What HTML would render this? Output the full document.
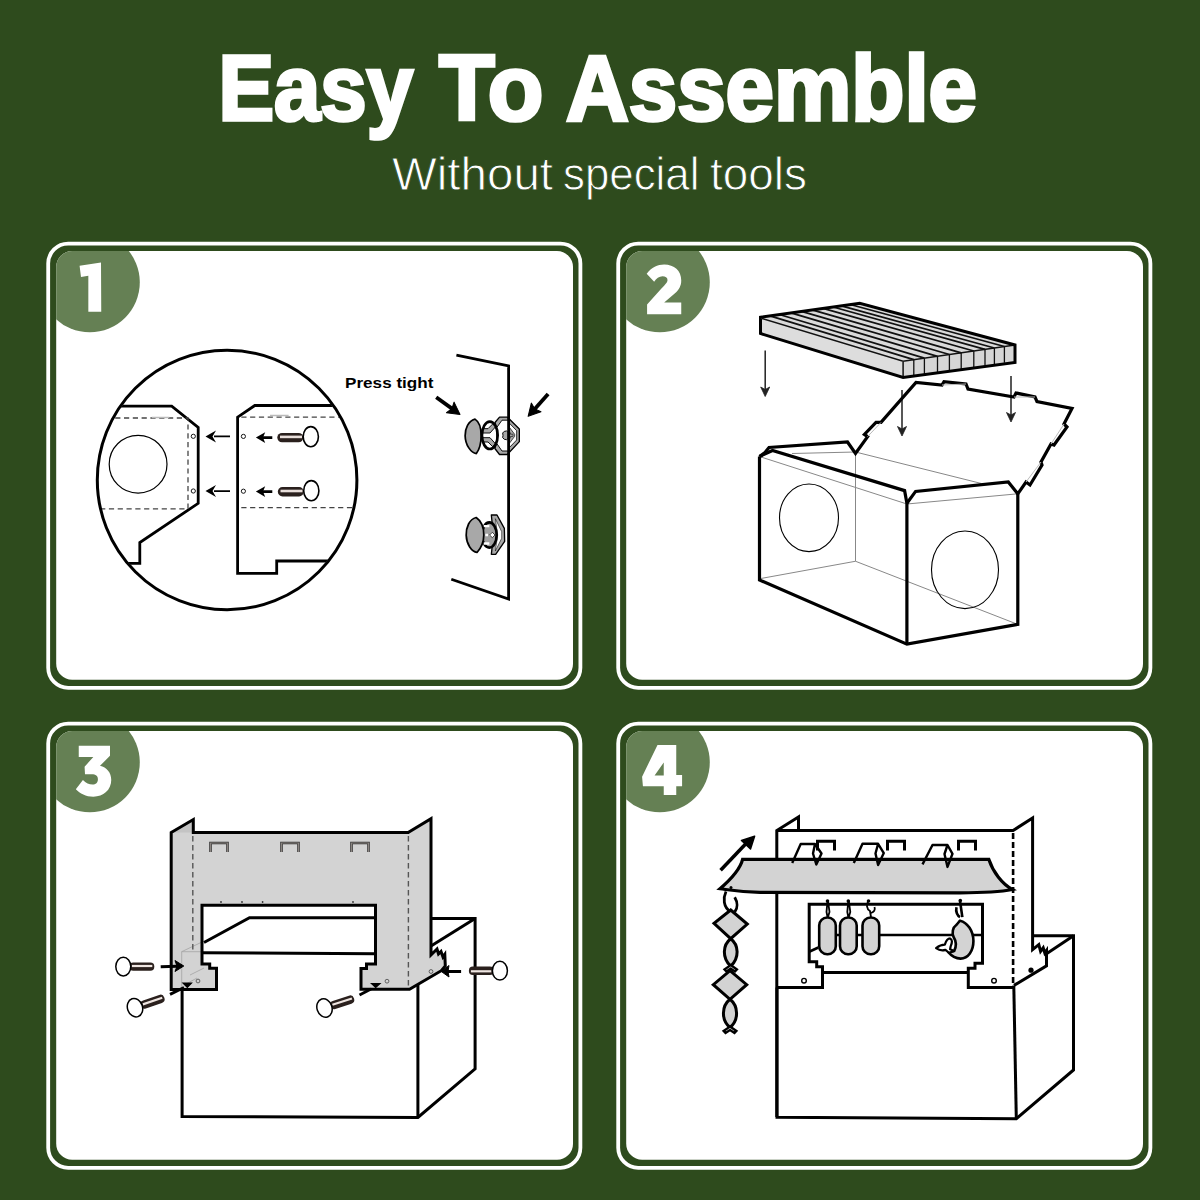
<!DOCTYPE html>
<html><head><meta charset="utf-8">
<style>
html,body{margin:0;padding:0;background:#2e4b1d;width:1200px;height:1200px;overflow:hidden}
svg{display:block}
</style></head>
<body>
<svg width="1200" height="1200" viewBox="0 0 1200 1200">
<defs>
  <g id="bolt">
    <rect x="6" y="-4.2" width="25" height="8.4" rx="4" fill="#2a201d"/>
    <rect x="8.5" y="-1.7" width="20.5" height="2.2" fill="#efe6e2"/>
    <ellipse cx="0" cy="0" rx="7.5" ry="9.4" fill="#fff" stroke="#000" stroke-width="1.5"/>
  </g>
  <clipPath id="p1"><rect x="56.2" y="251" width="516.8" height="428.7" rx="16"/></clipPath>
</defs>
<rect x="0" y="0" width="1200" height="1200" fill="#2e4b1d"/>
<g font-family="Liberation Sans" font-weight="bold" font-size="92.5" fill="#fff" stroke="#fff" stroke-width="3.6" stroke-linejoin="miter">
<text x="218.5" y="120" textLength="194.5" lengthAdjust="spacingAndGlyphs">Easy</text>
<text x="439" y="120" textLength="104.5" lengthAdjust="spacingAndGlyphs">To</text>
<text x="566" y="120" textLength="411" lengthAdjust="spacingAndGlyphs">Assemble</text>
</g>
<g font-family="Liberation Sans" font-size="47" fill="#fff" stroke="#2e4b1d" stroke-width="0.9">
<text x="392" y="189.8" textLength="161" lengthAdjust="spacingAndGlyphs">Without</text>
<text x="563" y="189.8" textLength="136.5" lengthAdjust="spacingAndGlyphs">special</text>
<text x="710" y="189.8" textLength="97" lengthAdjust="spacingAndGlyphs">tools</text>
</g>

<g id="card1">
  <rect x="48.2" y="243.6" width="532.2" height="444.2" rx="20" fill="none" stroke="#fff" stroke-width="3.8"/>
  <rect x="56.2" y="251" width="516.8" height="428.7" rx="16" fill="#fff"/>
  <g clip-path="url(#p1)"><circle cx="89.8" cy="282.3" r="50" fill="#658054"/></g>
  <g transform="translate(50,245) scale(0.083333)" fill="#fff"><path d="M355,248 L612,210 L615,800 L460,800 L460,368 L372,385 Z"/></g>
</g>
<g id="card2" transform="translate(570,0)">
  <rect x="48.2" y="243.6" width="532.2" height="444.2" rx="20" fill="none" stroke="#fff" stroke-width="3.8"/>
  <rect x="56.2" y="251" width="516.8" height="428.7" rx="16" fill="#fff"/>
  <g clip-path="url(#p1)"><circle cx="89.8" cy="282.3" r="50" fill="#658054"/></g>
  <g transform="translate(50,245) scale(0.083333)" fill="#fff"><path d="M320,345 C380,270 450,235 530,235 C650,235 735,310 735,425 C735,490 710,530 660,580 L530,690 L735,690 L735,830 L325,830 L325,715 L500,520 C545,470 570,450 570,420 C570,390 545,375 510,375 C470,375 435,400 410,440 Z"/></g>
</g>
<g id="card3" transform="translate(0,480)">
  <rect x="48.2" y="243.6" width="532.2" height="444.2" rx="20" fill="none" stroke="#fff" stroke-width="3.8"/>
  <rect x="56.2" y="251" width="516.8" height="428.7" rx="16" fill="#fff"/>
  <g clip-path="url(#p1)"><circle cx="89.8" cy="282.3" r="50" fill="#658054"/></g>
  <g transform="translate(50,245) scale(0.083333)" fill="#fff"><path d="M345,250 L720,250 L720,370 L600,490 C680,510 735,570 735,660 C735,780 640,860 520,860 C430,860 360,820 310,770 L395,660 C430,695 470,715 510,715 C550,715 575,690 575,650 C575,610 550,590 500,590 L420,590 L415,500 L520,385 L345,385 Z"/></g>
</g>
<g id="card4" transform="translate(570,480)">
  <rect x="48.2" y="243.6" width="532.2" height="444.2" rx="20" fill="none" stroke="#fff" stroke-width="3.8"/>
  <rect x="56.2" y="251" width="516.8" height="428.7" rx="16" fill="#fff"/>
  <g clip-path="url(#p1)"><circle cx="89.8" cy="282.3" r="50" fill="#658054"/></g>
  <g transform="translate(50,245) scale(0.083333)" fill="#fff"><path fill-rule="evenodd" d="M450,240 L675,240 L675,600 L745,600 L745,735 L675,735 L675,840 L525,840 L525,735 L275,735 L265,620 Z M525,450 L525,605 L415,605 Z"/></g>
</g>

<g id="draw1">
  <defs>
    <clipPath id="bigc"><circle cx="227.1" cy="480" r="128.6"/></clipPath>
  </defs>
  <g clip-path="url(#bigc)" fill="none" stroke="#000">
    <path d="M80,406.2 L171.7,406.2 L198.2,427.5 L198.2,503.3 L139.8,542.6 L139.8,563.3 L80,563.3" stroke-width="2.8" stroke-linejoin="miter"/>
    <path d="M80,418 L188,418 L188,508.9 L80,508.9" stroke="#444" stroke-width="1.3" stroke-dasharray="5.2 3.6"/>
    <path d="M151.8,417.4 L169.3,417.4" stroke="#bbb" stroke-width="1.5"/>
    <path d="M370,405.5 L254.8,405.5 L237.6,417.2 L237.6,573.3 L276.7,573.3 L276.7,561 L370,561" stroke-width="2.8"/>
    <path d="M241.3,417.2 L370,417.2 M241.3,507.6 L370,507.6" stroke="#444" stroke-width="1.3" stroke-dasharray="5.2 3.6"/>
    <path d="M270,415.6 L288.6,415.6" stroke="#bbb" stroke-width="1.5"/>
  </g>
  <circle cx="227.1" cy="480" r="129.8" fill="none" stroke="#000" stroke-width="3"/>
  <circle cx="138.1" cy="464.2" r="28.9" fill="none" stroke="#000" stroke-width="1.2"/>
  <circle cx="193.3" cy="436.3" r="2.1" fill="none" stroke="#000" stroke-width="0.9"/>
  <circle cx="193.3" cy="491" r="2.1" fill="none" stroke="#000" stroke-width="0.9"/>
  <circle cx="243.4" cy="436.4" r="2.1" fill="none" stroke="#000" stroke-width="0.9"/>
  <circle cx="243.4" cy="491.2" r="2.1" fill="none" stroke="#000" stroke-width="0.9"/>
  <!-- thin arrows -->
  <g stroke="#000" stroke-width="1.6"><path d="M214,436.4 L230,436.4 M214,491.1 L230,491.1"/></g>
  <path d="M205.5,436.4 L216,430.4 L212.5,436.4 L216,442.4 Z M205.5,491.1 L216,485.1 L212.5,491.1 L216,497.1 Z" fill="#000"/>
  <!-- thick arrows -->
  <g stroke="#000" stroke-width="2.6"><path d="M262,437.6 L272.3,437.6 M262,491.6 L272.3,491.6"/></g>
  <path d="M255.9,437.6 L265.2,432.3 L263,437.6 L265.2,442.9 Z M255.9,491.6 L265.2,486.3 L263,491.6 L265.2,496.9 Z" fill="#000"/>
  <!-- bolts -->
  <g>
    <rect x="277.3" y="432.9" width="26" height="9.4" rx="4.7" fill="#2a201d"/>
    <rect x="280" y="435.6" width="22" height="2.6" fill="#e9dfdb"/>
    <ellipse cx="310.8" cy="436.7" rx="7.6" ry="10.1" fill="#fff" stroke="#000" stroke-width="1.6"/>
    <rect x="277.8" y="487" width="26" height="9.4" rx="4.7" fill="#2a201d"/>
    <rect x="280.5" y="489.7" width="22" height="2.6" fill="#e9dfdb"/>
    <ellipse cx="311.3" cy="490.7" rx="7.6" ry="10.1" fill="#fff" stroke="#000" stroke-width="1.6"/>
  </g>
  <text x="345" y="388.1" font-family="Liberation Sans" font-weight="bold" font-size="15.4" fill="#000" textLength="88.5" lengthAdjust="spacingAndGlyphs">Press tight</text>
  <g transform="translate(459.2,413.8) rotate(35.7)">
    <path d="M-28.3,0 L-8,0" stroke="#000" stroke-width="3.8"/>
    <path d="M1,0 L-11,-6.5 L-9,0 L-11,6.5 Z" fill="#000" stroke="#000" stroke-width="1" stroke-linejoin="round"/>
  </g>
  <g transform="translate(528.8,415.6) rotate(131.9)">
    <path d="M-28.9,0 L-8,0" stroke="#000" stroke-width="3.8"/>
    <path d="M1,0 L-11,-6.5 L-9,0 L-11,6.5 Z" fill="#000" stroke="#000" stroke-width="1" stroke-linejoin="round"/>
  </g>
  <!-- clip 1 -->
  <g transform="translate(455,405) scale(0.0666667)" stroke="#000" stroke-width="20" stroke-linejoin="round">
    <path d="M600,262 L668,182 L785,182 L965,360 L965,550 L785,742 L668,742 L598,652 L650,455 Z" fill="#a8a8a8"/>
    <path d="M625,340 L705,228 L805,228 L805,690 L705,690 L625,575 Z" fill="#fff" stroke-width="14"/>
    <path d="M805,262 L925,385 L925,525 L805,650 Z" fill="#fff" stroke-width="12"/>
    <path d="M805,320 L895,440 L895,470 L805,590 L805,530 L850,455 L805,380 Z" fill="#a8a8a8" stroke-width="10"/>
    <path d="M720,455 A40,40 0 0 1 800,415 L800,495 A40,40 0 0 1 720,455 Z" fill="#a8a8a8" stroke-width="14"/>
    <path d="M800,438 L870,438 L870,472 L800,472 Z" fill="#a8a8a8" stroke="#000" stroke-width="8"/>
    <path d="M300,212 C200,240 150,350 152,460 C155,600 240,720 320,728 C370,660 392,560 392,460 C392,350 360,250 300,212 Z" fill="#a8a8a8" stroke-width="26"/>
    <path d="M410,355 L495,355 L565,285 L610,325 L525,420 L410,420 Z M410,555 L495,555 L565,625 L610,585 L525,490 L410,490 Z" fill="#a8a8a8" stroke-width="14"/>
    <ellipse cx="522" cy="455" rx="118" ry="205" fill="none" stroke-width="40"/>
  </g>
  <!-- clip 2 -->
  <g transform="translate(455,505) scale(0.0666667)" stroke="#000" stroke-width="20" stroke-linejoin="round">
    <path d="M545,150 L630,150 L740,350 L745,545 L610,740 L545,740 L560,600 L560,300 Z" fill="#a8a8a8"/>
    <path d="M605,205 L700,400 L700,500 L605,690 L640,450 Z" fill="#fff" stroke-width="8"/>
    <ellipse cx="515" cy="450" rx="110" ry="190" fill="#a0a0a0" stroke-width="40"/>
    <path d="M430,300 L515,300 L515,335 L430,335 Z M430,560 L515,560 L515,595 L430,595 Z M455,430 L495,430 L495,470 L455,470 Z" fill="#fff" stroke="none"/>
    <path d="M520,450 L560,410 L600,450 L560,490 Z" fill="#fff" stroke-width="10"/>
    <path d="M318,188 C215,215 165,330 168,455 C172,590 250,700 330,712 C395,640 432,560 432,450 C432,340 400,245 318,188 Z" fill="#a8a8a8" stroke-width="26"/>
  </g>
  <!-- right plate -->
  <path d="M456.4,355.1 L508.6,366 L508.6,599 L451.3,579.2" fill="none" stroke="#000" stroke-width="2.8" stroke-linejoin="miter"/>
</g>

<g id="draw2" stroke-linejoin="miter">
  <!-- board -->
  <path d="M760.5,317.2 L859.7,303.2 L1015,345 L903.1,361.25 Z" fill="#dadada"/>
  <path d="M760.5,317.2 L903.1,361.25 L903.1,377.5 L760.5,333.5 Z" fill="#dddddd"/>
  <path d="M903.1,361.25 L1015,345 L1015,362.5 L903.1,377.5 Z" fill="#d6d6d6"/>
  <path d="M913.8,359.7 L769.9,315.9 M924.4,358.2 L779.4,314.5 M937.5,356.3 L791.0,312.9 M949.4,354.5 L801.5,311.4 M961.2,352.8 L812.1,309.9 M973.8,351.0 L823.1,308.4 M985.0,349.4 L833.1,307.0 M994.4,348.0 L841.4,305.8 M1004.4,346.5 L850.3,304.5" stroke="#111" stroke-width="1.8" fill="none"/>
  <path d="M913.8,359.7 L913.8,376.0 M924.4,358.2 L924.4,374.4 M937.5,356.3 L937.5,372.5 M949.4,354.5 L949.4,370.8 M961.2,352.8 L961.2,369.1 M973.8,351.0 L973.8,367.2 M985.0,349.4 L985.0,365.6 M994.4,348.0 L994.4,364.2 M1004.4,346.5 L1004.4,362.8" stroke="#111" stroke-width="1.3" fill="none"/>
  <path d="M762,318.5 L903.1,361.25 L1015,345 M903.1,361.25 L903.1,377.5" stroke="#111" stroke-width="1.5" fill="none"/>
  <path d="M760.5,317.2 L859.7,303.2 L1015,345 L1015,362.5 L903.1,377.5 L760.5,333.5 Z" fill="none" stroke="#000" stroke-width="3"/>
  <!-- arrows -->
  <g stroke="#222" stroke-width="1.5" fill="none">
    <path d="M765.2,350.4 L765.2,390 M902,390 L902,430 M1011,376 L1011,416"/>
  </g>
  <path d="M765.2,396.5 L760.7,387 L765.2,389.5 L769.7,387 Z M902,436 L897.5,426.5 L902,429 L906.5,426.5 Z M1011,422 L1006.5,412.5 L1011,415 L1015.5,412.5 Z" fill="#222" stroke="#222" stroke-width="0.8"/>
  <!-- box grey inner lines -->
  <g stroke="#888" stroke-width="1" fill="none">
    <path d="M761,457 L906.9,504 L1017.8,493.8"/>
    <path d="M792,453.5 L855.5,452 L981.4,483.5"/>
    <path d="M855.5,452 L855.5,561.25"/>
    <path d="M759.5,578.75 L855.5,561.25 L1017.8,624.4"/>
  </g>
  <ellipse cx="809" cy="517.8" rx="29.5" ry="33.8" fill="none" stroke="#000" stroke-width="1.1"/>
  <ellipse cx="965" cy="569.8" rx="33.5" ry="38.8" fill="none" stroke="#000" stroke-width="1.1"/>
  <!-- box outline -->
  <g stroke="#000" stroke-width="3.2" fill="none">
    <path d="M759.5,456.5 L759.5,580 L906.9,644.2 L1017.8,624.4 L1017.8,493.8"/>
    <path d="M759.5,456.5 L772.5,450.5 L904.6,490.6 L906.9,503.3 L906.9,644.2"/>
    <path d="M759.5,456.5 L765,452.5 L769,447.5 L847.5,442 L855.5,453.5 L867.6,436.6 L864.4,434.4 L876,422.4 L881,422.4 L916,382.4 L942,385 L944,381.6 L966,384 L968,389 L1014,397 L1016,393 L1035,397 L1037,401.6 L1072,408.4 L1064,424 L1067,427 L1054,445 L1051,444 L1041,462 L1042,465 L1030,485 L1026,482 L1017.8,493.8 L1008.3,481.9 L915.6,491.4 L906.9,503.3"/>
  </g>
  <g stroke="#bbb" stroke-width="1" fill="none">
    <path d="M867.6,436.6 L881,422.4 M942,385 L966,384 M1014,397 L1035,397 M1064,424 L1051,444 M1041,462 L1026,482"/>
  </g>
</g>

<g id="draw3" stroke-linejoin="miter">
  <!-- box -->
  <g stroke="#000" stroke-width="3" fill="none">
    <path d="M182.1,989 L182.1,1116.5 L417.9,1117.5 L475.1,1068.9 L475.1,918.4 L431,918.4"/>
    <path d="M417.9,1117.5 L417.9,984"/>
    <path d="M475.1,918.4 L431,946.1"/>
  </g>
  <!-- panel -->
  <path d="M171.2,832.5 L193.3,819.5 L193.3,832.5 L408.1,832.5 L431,818.7 L431,955 L437,949 L438.5,954 L441,951.5 L443,957 L444.8,954.5 L445.3,966 L441.3,970.7 L409.5,989.3 L361,989.3 L361,968.5 L366.5,968.5 L366.5,964 L375.5,964 L375.5,905.3 L202,905.3 L202,963.9 L209.7,963.9 L209.7,968.3 L216.5,968.3 L216.5,989.5 L171.2,989.5 Z" fill="#d3d3d3"/>
  <path d="M171.2,832.5 L193.3,819.5 L193.3,832.5 Z" fill="#c4c4c4"/>
  <!-- inner tray -->
  <g stroke="#000" stroke-width="3" fill="none">
    <path d="M204,942.5 L249.5,917.7 L375.5,917.7"/>
    <path d="M202,952.8 L375.5,953.8"/>
  </g>
  <!-- faint lines -->
  <g stroke="#999" stroke-width="0.8" fill="none" opacity="0.8">
    <path d="M181.7,989 L181.7,951.7 L202,951.7 M181.7,951.7 L202,942"/>
    <path d="M186,984 L197,978 M190,975 L204,968"/>
  </g>
  <!-- dashed -->
  <path d="M192.8,836 L192.8,952 M408.4,836 L408.4,988" stroke="#555" stroke-width="1.4" stroke-dasharray="5.5 3.5" fill="none"/>
  <!-- slots -->
  <g fill="none" stroke="#333" stroke-width="2.6">
    <path d="M210.5,852 L210.5,843 L227.5,843 L227.5,852 M281.5,852 L281.5,843 L298.5,843 L298.5,852 M351.5,852 L351.5,843 L368.5,843 L368.5,852"/>
  </g>
  <g fill="none" stroke="#8a8480" stroke-width="1.2">
    <path d="M210.5,852 L210.5,843 L227.5,843 L227.5,852 M281.5,852 L281.5,843 L298.5,843 L298.5,852 M351.5,852 L351.5,843 L368.5,843 L368.5,852"/>
  </g>
  <g fill="#333"><circle cx="221" cy="902" r="0.9"/><circle cx="242" cy="902" r="0.9"/><circle cx="262.6" cy="902" r="0.9"/><circle cx="353" cy="902" r="0.9"/></g>
  <circle cx="198" cy="981" r="1.9" fill="none" stroke="#555" stroke-width="0.9"/>
  <circle cx="387" cy="981.2" r="1.9" fill="none" stroke="#555" stroke-width="0.9"/>
  <circle cx="431" cy="971.5" r="1.9" fill="none" stroke="#555" stroke-width="0.9"/>
  <!-- panel outline -->
  <path d="M171.2,832.5 L193.3,819.5 L193.3,832.5 L408.1,832.5 L431,818.7 L431,955 L437,949 L438.5,954 L441,951.5 L443,957 L444.8,954.5 L445.3,966 L441.3,970.7 L409.5,989.3 L361,989.3 L361,968.5 L366.5,968.5 L366.5,964 L375.5,964 L375.5,905.3 L202,905.3 L202,963.9 L209.7,963.9 L209.7,968.3 L216.5,968.3 L216.5,989.5 L171.2,989.5 Z" fill="none" stroke="#000" stroke-width="3"/>
  <path d="M193.3,832.5 L193.3,834 M408.1,832.5 L408.1,834" stroke="#000" stroke-width="2"/>
  <!-- bolts -->
  <use href="#bolt" transform="translate(123.3,966.6)"/>
  <use href="#bolt" transform="translate(135,1007.7) rotate(-19)"/>
  <use href="#bolt" transform="translate(324.5,1008) rotate(-18)"/>
  <use href="#bolt" transform="translate(499.9,970.7) rotate(180)"/>
  <!-- arrows -->
  <g stroke="#000" stroke-width="3" fill="none" stroke-linecap="butt">
    <path d="M160.7,966.8 L177,966.2"/>
    <path d="M170,994.3 L184,987.5"/>
    <path d="M359.5,995 L371,989"/>
    <path d="M461.1,971.5 L448,971.5"/>
  </g>
  <path d="M183.8,966 L175,960.5 L177,966.2 L175,971.5 Z" fill="#000" stroke="#000" stroke-width="1"/>
  <path d="M183,983 L191.5,983 L187.3,987.5 Z M371.5,983.5 L380,983.5 L375.7,987.5 Z" fill="#000" stroke="#000" stroke-width="1.2"/>
  <path d="M441.3,971.5 L449,965.5 L448,971.5 L449,977 Z" fill="#000" stroke="#000" stroke-width="1"/>
</g>

<g id="draw4" stroke-linejoin="miter">
  <!-- box -->
  <g stroke="#000" stroke-width="3" fill="none">
    <path d="M777,987.5 L777,1117.3 L1016.3,1118.7 L1073.5,1070 L1073.5,935.8 L1032.6,935.8"/>
    <path d="M1013.8,985.5 L1016.3,1118.7"/>
    <path d="M1073.5,935.8 L1046.5,953.7"/>
  </g>
  <!-- panel outline -->
  <g stroke="#000" stroke-width="3" fill="none">
    <path d="M776.8,1117 L776.8,830.5 L798.5,817 L798.5,830.5 M776.8,830.5 L1013.1,830.5 L1032.6,818 L1032.6,949.6 L1038.8,944.6 L1040.6,951.3 L1043.2,947.8 L1044.8,953 L1046.5,950.5 L1046.5,965.9 L1014,985.4"/>
    <path d="M777,987.5 L822.5,987.5 L822.5,966.7 L816.7,966.7 L816.7,961.7 L809.2,961.7 L809.2,904.2 L982.5,904.2 L982.5,963.3 L975,963.3 L975,968.3 L968.3,968.3 L968.3,987.5 L1014,987.5"/>
    <path d="M822.5,972.5 L968.3,972.5"/>
    <path d="M880,935 L982.5,935 M809.2,951.7 L818.3,947.5" stroke-width="2.6"/>
  </g>
  <path d="M1013.1,833 L1013.1,985" stroke="#000" stroke-width="2.6" stroke-dasharray="6 3" fill="none"/>
  <circle cx="804" cy="980.7" r="2.3" fill="none" stroke="#000" stroke-width="1.4"/>
  <circle cx="994" cy="980.7" r="2.3" fill="none" stroke="#000" stroke-width="1.4"/>
  <circle cx="1031" cy="970.2" r="2.6" fill="#000"/>
  <!-- slots -->
  <g fill="none" stroke="#000" stroke-width="3" stroke-linejoin="miter">
    <path d="M817.5,850.5 L817.5,841.3 L834.5,841.3 L834.5,850.5"/>
    <path d="M887.5,850.5 L887.5,841.3 L904.5,841.3 L904.5,850.5"/>
    <path d="M958.5,850.5 L958.5,841.3 L975.5,841.3 L975.5,850.5"/>
  </g>
  <!-- roof -->
  <path d="M742.6,859.3 L988.8,859.3 C993,872 1002,884 1012.3,889.5 C1000,892 990,892.8 960,892.8 L760,892.3 C740,892 730,890 720,888.7 C730,880 740,870 742.6,859.3 Z" fill="#d3d3d3" stroke="#000" stroke-width="3.2"/>
  <!-- hooks on roof -->
  <g fill="none" stroke="#000" stroke-width="2.4" stroke-linejoin="round">
    <path d="M792.2,863 L800.7,844 L815,844 L821.5,853.5 L816.3,864.5 L813,853.5 L815,844"/>
    <path d="M853.8,863.1 L862.5,843.8 L878.1,843.8 L883.8,853.1 L878.1,865 L875.5,853.5 L878.1,843.8"/>
    <path d="M922.5,864.4 L932.5,845 L947.5,845 L952.5,853.8 L947.5,866.9 L944.5,854 L947.5,845"/>
  </g>
  <!-- arrow -->
  <path d="M720.6,870.2 L747,842.5" stroke="#000" stroke-width="3.5"/>
  <path d="M754.6,836.2 L741.5,840.5 L750.5,849 Z" fill="#000" stroke="#000" stroke-width="1.5" stroke-linejoin="round"/>
  <!-- sausages -->
  <g fill="#d3d3d3" stroke="#000" stroke-width="2.6">
    <rect x="819.2" y="917.5" width="16.6" height="36.7" rx="8"/>
    <rect x="840" y="917.5" width="16.7" height="36.7" rx="8"/>
    <rect x="862.5" y="917.5" width="16.7" height="36.7" rx="8"/>
  </g>
  <g fill="none" stroke="#000" stroke-width="1.8">
    <path d="M827.5,901 L826.5,912 L827.5,917 M828,901 L829.5,912 L828,917"/>
    <path d="M848.3,901 L847.3,912 L848.3,917 M848.8,901 L850.3,912 L848.8,917"/>
    <path d="M868.5,901 C866,904 866.5,909 870,911 L871,917 M874.5,907 C875.5,910 874,912 871,913"/>
  </g>
  <g fill="#000"><circle cx="827.5" cy="901" r="1.8"/><circle cx="848.3" cy="901" r="1.8"/><circle cx="868.5" cy="901" r="1.8"/><circle cx="960.3" cy="900.5" r="1.8"/></g>
  <path d="M835.8,935 L840,935 M856.7,935 L862.5,935" stroke="#000" stroke-width="2.6"/>
  <!-- fish -->
  <g transform="translate(925,895) scale(0.05834)" stroke="#000" stroke-width="45" stroke-linejoin="round">
    <path d="M600,100 L640,380 M540,210 C520,290 560,360 600,380" fill="none"/>
    <path d="M600,440 C730,470 830,620 830,790 C830,960 740,1090 610,1090 C520,1090 450,1040 400,980 L500,960 C540,880 540,800 490,720 C460,650 470,560 540,510 C570,480 585,455 600,440 Z" fill="#d3d3d3"/>
    <path d="M410,990 L350,940 C300,955 230,940 190,910 C240,870 300,850 340,850 C360,790 390,745 430,745 C470,760 470,810 440,880 L430,930 L500,960 Z" fill="#fff" stroke-width="38"/>
  </g>
  <!-- chain -->
  <g fill="none" stroke="#000" stroke-width="2.8">
    <path d="M726,891.5 C723,898 723,907 730.7,912 M734.7,897.3 C737.5,902 738,908 734.7,912"/>
  </g>
  <g fill="#d3d3d3" stroke="#000" stroke-width="3" stroke-linejoin="miter">
    <path d="M730.7,910 L747.3,924 L730.7,938.7 L714,923.3 Z"/>
    <path d="M730.7,938.7 C739,945 739.5,958 730.7,966.2 C722,958 722.5,945 730.7,938.7 Z"/>
    <path d="M730.7,965 L737,969.5 L735,971.5 L730.7,968.5 L726.4,971.5 L724.4,969.5 Z" stroke-width="2.2"/>
    <path d="M730,970.7 L746.7,984.7 L730,999.3 L713.3,984.7 Z"/>
    <path d="M730,999.3 C738.5,1006 739,1020 730,1027.5 C721,1020 721.5,1006 730,999.3 Z"/>
    <path d="M730,1026.5 L736.5,1031 L734.5,1033 L730,1030 L725.5,1033 L723.5,1031 Z" stroke-width="2.2"/>
  </g>
  <circle cx="731" cy="887.5" r="1.5" fill="#000"/>
</g>

</svg>
</body></html>
